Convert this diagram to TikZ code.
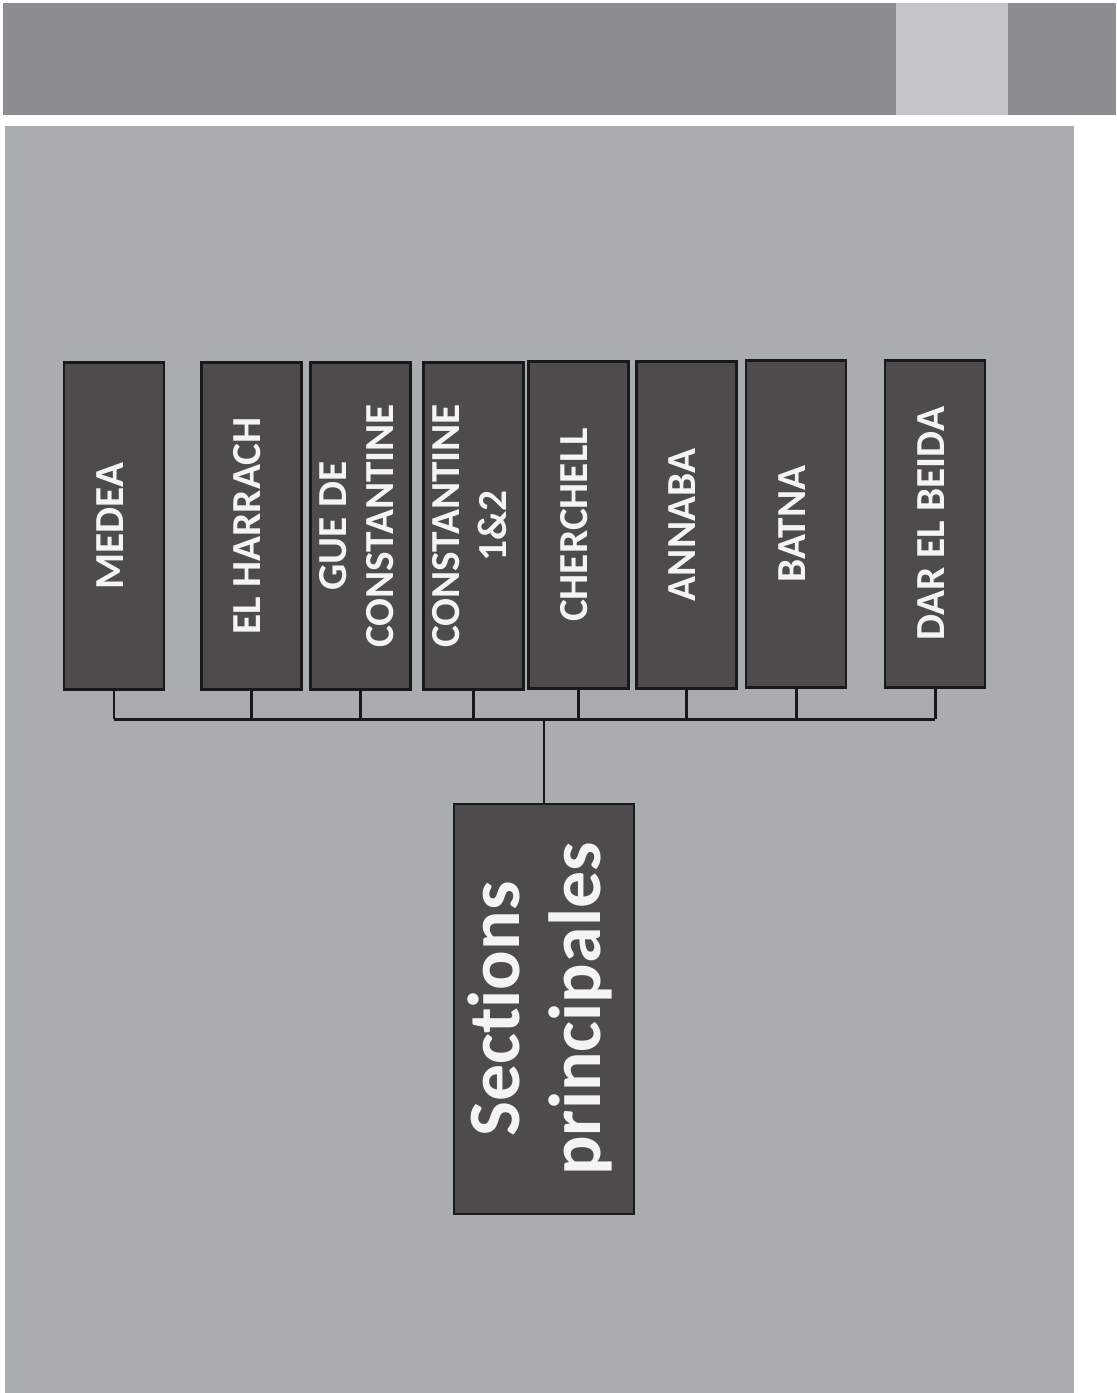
\documentclass[tikz,border=0pt]{standalone}
\usepackage{fontspec}
\setmainfont[Ligatures=NoCommon]{Carlito}
\usepackage{graphicx}
\usepackage{tikz}
\usetikzlibrary{calc}
\definecolor{bandgray}{HTML}{8B8E90}
\definecolor{bandlight}{HTML}{C2C6C8}
\definecolor{pagegray}{HTML}{A9ADB0}
\definecolor{boxgray}{HTML}{4D4B4C}
\definecolor{boxtext}{HTML}{F4F4F4}
\tikzset{
  sectionbox/.style={draw=black!90, line width=1.6pt, fill=boxgray, text=boxtext,
    inner sep=0pt, minimum width=2cm, minimum height=6.54cm,
    font=\fontsize{23.5}{27}\selectfont\bfseries},
  rootbox/.style={sectionbox, minimum width=3.6cm, minimum height=8.2cm,
    font=\fontsize{42}{46}\selectfont\bfseries},
  link/.style={line width=1.7pt, draw=black!90}
}
\newcommand{\uptext}[1]{\rotatebox{90}{\begin{tabular}{@{}c@{}}#1\end{tabular}}}

\begin{document}
\begin{tikzpicture}[x=0.02cm, y=-0.02cm]
		\useasboundingbox (0,0) rectangle (1116,1393);
		%%%%% HEADER %%%%%
		
		\fill[bandgray] (3,3) rectangle (1116,115);
		\fill[bandlight] (896,3) rectangle (1008,115);
		
		%%%%% PAGE %%%%%
		
		\fill[pagegray] (5,126) rectangle (1074,1393);
		
		%%%%% SECTIONS %%%%%
		
		\node[sectionbox] (medea) at (114,526) {\uptext{MEDEA}};
		\node[sectionbox] (harrach) at (251.5,526) {\uptext{EL HARRACH}};
		\node[sectionbox] (gue) at (360.5,526) {\uptext{GUE DE\\CONSTANTINE}};
		\node[sectionbox] (constantine) at (473.5,526) {\uptext{CONSTANTINE\\1\&2}};
		\node[sectionbox] (cherchell) at (578.5,525) {\uptext{CHERCHELL}};
		\node[sectionbox] (annaba) at (686.5,525) {\uptext{ANNABA}};
		\node[sectionbox] (batna) at (796,524) {\uptext{BATNA}};
		\node[sectionbox] (beida) at (935,524) {\uptext{DAR EL BEIDA}};
		
		\node[rootbox] (root) at (544,1009) {\uptext{Sections\\principales}};
		
		%%%%% LINKS %%%%%
		
		\coordinate (bus) at (0,719);
		\foreach \n in {medea,harrach,gue,constantine,cherchell,annaba,batna,beida}
			\draw[link] (\n.south) -- (\n.south |- bus);
		\draw[link] (medea.south |- bus) -- (beida.south |- bus);
		\draw[link] (root.north) -- (root.north |- bus);
		
		%%%%% END %%%%%
\end{tikzpicture}
\end{document}
